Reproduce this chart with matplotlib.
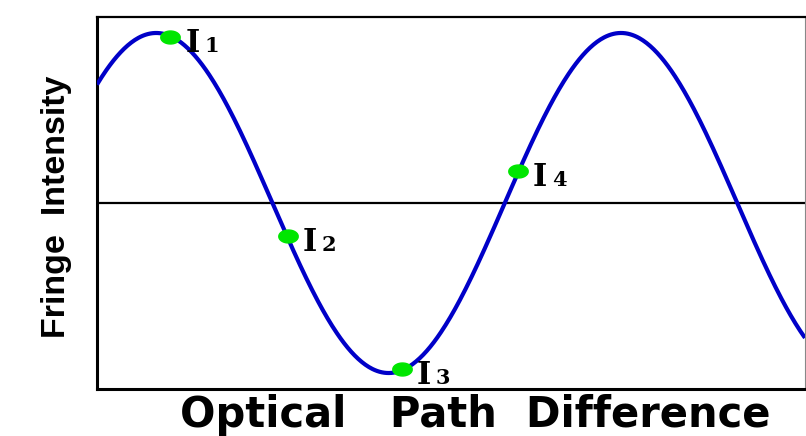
import numpy as np
import matplotlib
matplotlib.use('Agg')
import matplotlib.pyplot as plt
from matplotlib.path import Path

# fringe: cosine of the phase (radians), peak at phase 0
amplitude = 1.0
phase_start = -0.80
phase_end = 8.77

point_labels = ['1', '2', '3', '4']
point_phase = [0.19, 1.78, 3.32, 4.89]
point_value = [0.976, -0.194, -0.976, 0.188]

phase = np.linspace(phase_start, phase_end, 600)
intensity = amplitude * np.cos(phase)  # ideal two-beam fringe

fig = plt.figure(figsize=(8.06, 4.36), dpi=100)
ax = fig.add_axes([97 / 806, 1 - 389 / 436, 708 / 806, 372 / 436])

ax.plot(phase, intensity, color='#0000c8', lw=3, zorder=3, solid_capstyle='butt')
ax.axhline(0, color='black', lw=1.6, zorder=2)

# slightly wide dots like in the picture
t = np.linspace(0, 2 * np.pi, 40)
ellipse = Path(np.column_stack([1.5 * np.cos(t), np.sin(t)]))
ax.plot(point_phase, point_value, ls='none', marker=ellipse, ms=14,
        color='#00e600', zorder=4)

for lab, px, py in zip(point_labels, point_phase, point_value):
    ax.annotate('I', (px, py), xytext=(15, -15), textcoords='offset pixels',
                fontsize=22, fontweight='bold', family='DejaVu Serif',
                va='baseline', ha='left', zorder=5)
    ax.annotate(lab, (px, py), xytext=(34, -15), textcoords='offset pixels',
                fontsize=15, fontweight='bold', family='DejaVu Serif',
                va='baseline', ha='left', zorder=5)

ax.set_xlim(phase_start, phase_end)
ax.set_ylim(-1.094, 1.094)
ax.set_xticks([])
ax.set_yticks([])
ax.spines['left'].set_linewidth(2.2)
ax.spines['bottom'].set_linewidth(2.2)
ax.spines['top'].set_linewidth(1.6)
ax.spines['right'].set_linewidth(0.8)
ax.spines['right'].set_color('#888888')

fig.text(180 / 806, 1 - 415 / 436, 'Optical   Path  Difference', ha='left', va='center',
         fontsize=30, fontweight='bold', family='DejaVu Sans')
fig.text(57 / 806, 1 - 207 / 436, 'Fringe  Intensity', rotation=90, ha='center', va='center',
         fontsize=24.5, fontweight='bold', family='Liberation Sans')

fig.savefig('out.png', dpi=100)
